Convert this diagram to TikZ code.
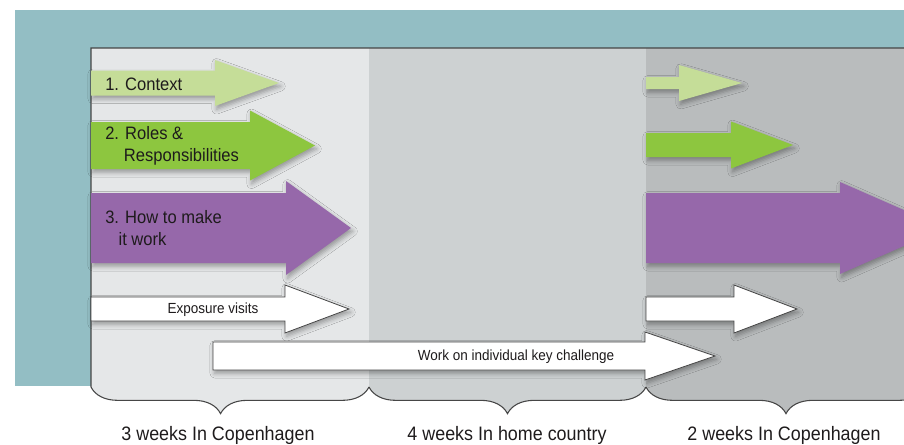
\documentclass[tikz,border=0pt]{standalone}
\usepackage{fontspec}
\setmainfont{Liberation Sans}[FakeStretch=0.92]
\usepackage{xcolor}
\usetikzlibrary{decorations.pathreplacing, shadows, shadows.blur}
\definecolor{tealbg}{RGB}{147,190,196}
\definecolor{weekA}{RGB}{229,231,232}
\definecolor{weekB}{RGB}{205,209,210}
\definecolor{weekC}{RGB}{185,188,189}
\definecolor{ctxgreen}{RGB}{197,221,152}
\definecolor{rolegreen}{RGB}{141,198,63}
\definecolor{howpurple}{RGB}{150,104,170}
\definecolor{panelline}{RGB}{70,70,70}
\definecolor{inktext}{RGB}{30,27,28}
\newcommand*{\phasearrow}[7][]{%
  \path[#1] (#2,#5-#6) -- (#3,#5-#6) -- (#3,#5-#7) -- (#4,#5)
    -- (#3,#5+#7) -- (#3,#5+#6) -- (#2,#5+#6) -- cycle;
}

\begin{document}
\begin{tikzpicture}[x=0.75pt, y=-0.75pt,
  every node/.style = {inner sep=0pt, text=inktext},
  arrowshadow/.style = {blur shadow={shadow xshift=1.2pt,
      shadow yshift=-2.5pt, shadow blur radius=3.5pt, shadow opacity=35}},
  flat/.style    = {fill=#1, arrowshadow},
  hollow/.style  = {fill=white, draw=panelline, line width=0.6pt, arrowshadow},
  weekbrace/.style = {decoration={brace, mirror, amplitude=20pt, aspect=#1}},
  bigtext/.style   = {font=\fontsize{13.5}{16.5}\selectfont, anchor=west, align=left},
  smalltext/.style = {font=\fontsize{11}{13}\selectfont},
  weektext/.style  = {font=\fontsize{14.6}{17}\selectfont, anchor=base},
  ]
  \useasboundingbox (0,0) rectangle (904,444);
  \clip (0,0) rectangle (904,444);
  \fill[tealbg] (15,10) rectangle (904,386);
  % the three periods
  \fill[weekA] (91,387) decorate[weekbrace=0.466] {-- (369,387)}
    -- (369,48) -- (91,48) -- cycle;
  \fill[weekB] (369,387) decorate[weekbrace=0.5] {-- (646,387)}
    -- (646,48) -- (369,48) -- cycle;
  \fill[weekC] (646,387) decorate[weekbrace=0.5] {-- (926,387)}
    -- (926,48) -- (646,48) -- cycle;
  \draw[panelline, line width=0.8pt] (904,48) -- (91,48) -- (91,387)
    decorate[weekbrace=0.466] {-- (369,387)}
    decorate[weekbrace=0.5] {-- (646,387)}
    decorate[weekbrace=0.5] {-- (926,387)};
  % arrows
  \phasearrow[flat=ctxgreen]{91}{215}{279}{83}{12.5}{23}
  \phasearrow[flat=rolegreen]{91}{250}{315}{145.5}{23.5}{35}
  \phasearrow[flat=howpurple]{91}{286}{351}{228}{35}{47}
  \phasearrow[flat=ctxgreen]{646}{679}{742}{83}{6}{18}
  \phasearrow[flat=rolegreen]{646}{731}{793}{145}{12}{23.5}
  \phasearrow[flat=howpurple]{646}{840}{945}{228}{35}{46}
  \phasearrow[hollow]{213}{645}{715}{356}{14}{24}
  \phasearrow[hollow]{91}{285}{349}{309}{12}{24}
  \phasearrow[hollow]{646}{734}{797}{309}{12}{24}
  % labels
  \node[bigtext] (ctxtext) at (105,84) {1. Context};
  \node[bigtext] (rolestext) at (105,146) {2. Roles \&\\\hspace*{14pt}Responsibilities};
  \node[bigtext] (howtext) at (105,228) {3. How to make\\\hspace*{10pt}it work};
  \node[smalltext] (exptext) at (213,310) {Exposure visits};
  \node[smalltext] (worktext) at (516,357) {Work on individual key challenge};
  \node[weektext] (weekone) at (218,440) {3 weeks In Copenhagen};
  \node[weektext] (weektwo) at (507,440) {4 weeks In home country};
  \node[weektext] (weekthree) at (784,440) {2 weeks In Copenhagen};
\end{tikzpicture}
\end{document}
